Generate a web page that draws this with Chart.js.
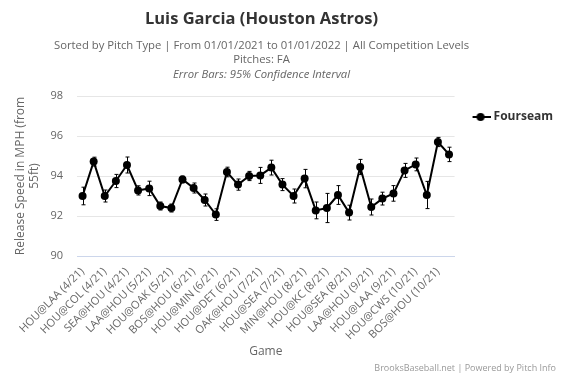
<!DOCTYPE html>
<html><head><meta charset="utf-8">
<script src="https://cdn.jsdelivr.net/npm/chart.js@4"></script>
<style>
html,body{margin:0;padding:0;background:#fff;}
#wrap{position:relative;width:566px;height:377px;font-family:"Open Sans",sans-serif;overflow:hidden;}
#c{position:absolute;left:0;top:0;}
.t{position:absolute;left:0;width:523px;text-align:center;white-space:nowrap;}
</style></head><body>
<div id="wrap">
<canvas id="c" width="566" height="377"></canvas>
<div class="t" style="top:7px;font-size:16.5px;line-height:22px;font-weight:bold;color:#333">Luis Garcia (Houston Astros)</div>
<div class="t" style="top:37.5px;font-size:11.3px;line-height:14.5px;color:#666">Sorted by Pitch Type | From 01/01/2021 to 01/01/2022 | All Competition Levels<br>Pitches: FA<br><i>Error Bars: 95% Confidence Interval</i></div>
<div style="position:absolute;right:10px;top:362px;font-size:9px;line-height:12px;color:#999;white-space:nowrap">BrooksBaseball.net | Powered by Pitch Info</div>
</div>
<script>
const categories = [
  'HOU@LAA (4/21)','LAA@HOU (4/21)','HOU@COL (4/21)','TEX@HOU (4/21)','SEA@HOU (4/21)',
  'HOU@TOR (5/21)','LAA@HOU (5/21)','HOU@BOS (5/21)','HOU@OAK (5/21)','HOU@SD (5/21)',
  'BOS@HOU (6/21)','TOR@HOU (6/21)','HOU@MIN (6/21)','BAL@HOU (6/21)','HOU@DET (6/21)',
  'HOU@CLE (7/21)','OAK@HOU (7/21)','NYY@HOU (7/21)','HOU@SEA (7/21)','HOU@LAA (7/21)',
  'MIN@HOU (8/21)','HOU@OAK (8/21)','HOU@KC (8/21)','SF@HOU (8/21)','HOU@SEA (8/21)',
  'HOU@TEX (9/21)','LAA@HOU (9/21)','HOU@ARI (9/21)','HOU@LAA (9/21)','OAK@HOU (9/21)',
  'HOU@CWS (10/21)','CWS@HOU (10/21)','BOS@HOU (10/21)','HOU@BOS (10/21)'
];
const fourseamMph = [93.0, 94.72, 93.0, 93.75, 94.55, 93.28, 93.38, 92.5, 92.4, 93.83,
  93.4, 92.8, 92.07, 94.2, 93.57, 94.0, 94.03, 94.42, 93.57, 93.0,
  93.87, 92.28, 92.4, 93.05, 92.17, 94.45, 92.45, 92.87, 93.13, 94.28,
  94.58, 93.05, 95.7, 95.08];
const fourseamCI95 = [0.44, 0.22, 0.3, 0.33, 0.4, 0.23, 0.36, 0.2, 0.2, 0.17,
  0.25, 0.3, 0.29, 0.24, 0.28, 0.23, 0.4, 0.37, 0.3, 0.35,
  0.46, 0.42, 0.73, 0.47, 0.37, 0.38, 0.4, 0.32, 0.39, 0.35,
  0.32, 0.68, 0.23, 0.36];
const yTicks = [90, 92, 94, 96, 98];

const errorBars = {
  id: 'errorBars',
  afterDatasetsDraw(chart) {
    const ctx = chart.ctx, xs = chart.scales.x, ys = chart.scales.y;
    ctx.save();
    ctx.strokeStyle = '#000';
    ctx.lineWidth = 1;
    fourseamMph.forEach((v, i) => {
      const px = Math.round(xs.getPixelForValue(i)) + 0.5;
      const lo = ys.getPixelForValue(v - fourseamCI95[i]);
      const hi = ys.getPixelForValue(v + fourseamCI95[i]);
      ctx.beginPath();
      ctx.moveTo(px, lo); ctx.lineTo(px, hi);
      ctx.moveTo(px - 2, lo); ctx.lineTo(px + 2, lo);
      ctx.moveTo(px - 2, hi); ctx.lineTo(px + 2, hi);
      ctx.stroke();
    });
    ctx.restore();
  }
};

const icon = document.createElement('canvas');
icon.width = 24; icon.height = 10;
(function(){
  const g = icon.getContext('2d');
  g.strokeStyle = '#000'; g.fillStyle = '#000'; g.lineWidth = 2;
  g.beginPath(); g.moveTo(6, 5); g.lineTo(24, 5); g.stroke();
  g.beginPath(); g.arc(14, 5, 4, 0, Math.PI * 2); g.fill();
})();

new Chart(document.getElementById('c'), {
  type: 'line',
  data: {
    labels: categories,
    datasets: [{
      label: 'Fourseam',
      data: fourseamMph,
      borderColor: '#000',
      backgroundColor: '#000',
      borderWidth: 2,
      pointRadius: 4,
      pointBackgroundColor: '#000',
      pointBorderWidth: 0,
      tension: 0,
      fill: false
    }]
  },
  options: {
    responsive: false,
    animation: false,
    devicePixelRatio: 1,
    layout: { padding: { top: 96, left: 8, right: 3, bottom: 10 } },
    plugins: {
      title: { display: false },
      tooltip: { enabled: false },
      legend: {
        position: 'right',
        align: 'start',
        labels: {
          usePointStyle: true,
          pointStyle: icon,
          pointStyleWidth: 18,
          padding: 15,
          color: '#333',
          font: { family: '"Open Sans"', size: 12, weight: 'bold' },
          generateLabels: (chart) => [{
            text: 'Fourseam', pointStyle: icon, fillStyle: '#000', strokeStyle: '#000',
            lineWidth: 0, hidden: false, datasetIndex: 0, fontColor: '#333'
          }]
        }
      }
    },
    scales: {
      x: {
        offset: true,
        grid: { display: false, drawTicks: false },
        border: { display: true, color: '#ccd6eb', width: 1 },
        ticks: {
          autoSkip: false,
          minRotation: 45, maxRotation: 45,
          padding: 9,
          color: '#666',
          font: { family: '"Open Sans"', size: 11 },
          callback: function(val, idx) { return idx % 2 === 0 ? categories[idx] : ''; }
        },
        title: {
          display: true, text: 'Game', color: '#666',
          font: { family: '"Open Sans"', size: 12 },
          padding: { top: 0, bottom: 8 }
        },
        afterFit: (s) => { s.height = 111; }
      },
      y: {
        min: 90, max: 98,
        afterBuildTicks: (s) => { s.ticks = yTicks.map(v => ({ value: v })); },
        grid: {
          drawTicks: false,
          color: (c) => (c.tick && c.tick.value === 90) ? '#ccd6eb' : '#e6e6e6',
          lineWidth: 1
        },
        border: { display: false },
        ticks: {
          padding: 14,
          color: '#666',
          font: { family: '"Open Sans"', size: 11 }
        },
        title: {
          display: true,
          text: ['Release Speed in MPH (from', '55ft)'],
          color: '#666',
          font: { family: '"Open Sans"', size: 12 },
          padding: { top: 5, bottom: 0 }
        },
        afterFit: (s) => { s.width = 69; }
      }
    }
  },
  plugins: [errorBars]
});
</script>
</body></html>
